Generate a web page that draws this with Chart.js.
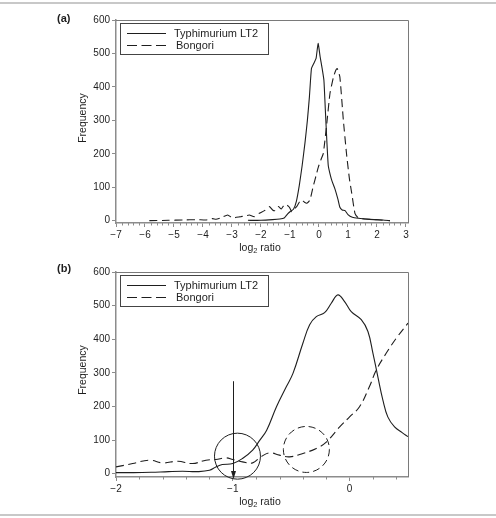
<!DOCTYPE html>
<html>
<head>
<meta charset="utf-8">
<script src="https://cdn.jsdelivr.net/npm/chart.js@4.4.0/dist/chart.umd.min.js"></script>
<style>
  body { margin: 0; background: #fff; width: 496px; height: 518px; position: relative; overflow: hidden; }
  .rule { position: absolute; left: 0; width: 496px; height: 2px; background: #c8c8c8; }
  .panel { position: absolute; left: 0; width: 496px; height: 258px; }
  canvas { display: block; }
</style>
</head>
<body>
<div class="rule" style="top:2px"></div>
<div class="rule" style="top:514px"></div>
<div class="panel" style="top:0"><canvas id="chartA" width="496" height="258"></canvas></div>
<div class="panel" style="top:258px"><canvas id="chartB" width="496" height="258"></canvas></div>
<script>
// series names
const seriesNames = ['Typhimurium LT2', 'Bongori'];

// panel (a): full range
const typhiAx = [-2.45, -2.0, -1.6, -1.35, -1.2, -1.08, -0.98, -0.88, -0.78, -0.68, -0.58, -0.48, -0.4, -0.33, -0.26, -0.18, -0.1, -0.03, 0.04, 0.1, 0.17, 0.22, 0.27, 0.32, 0.38, 0.45, 0.55, 0.65, 0.72, 0.8, 0.9, 1.0, 1.15, 1.35, 1.6, 1.9, 2.2, 2.45];
const typhiAy = [1, 1, 3, 5, 8, 20, 28, 34, 58, 105, 165, 235, 300, 370, 455, 470, 485, 530, 490, 460, 420, 330, 240, 165, 140, 118, 95, 65, 40, 32, 30, 18, 10, 7, 5, 3, 2, 0];
const bongAx = [-5.85, -5.2, -4.7, -4.2, -3.9, -3.67, -3.55, -3.4, -3.15, -2.98, -2.85, -2.69, -2.5, -2.4, -2.23, -2.06, -1.88, -1.71, -1.6, -1.52, -1.4, -1.3, -1.2, -1.11, -1.02, -0.94, -0.85, -0.77, -0.68, -0.6, -0.5, -0.42, -0.31, -0.2, -0.1, -0.02, 0.08, 0.15, 0.27, 0.38, 0.5, 0.58, 0.63, 0.72, 0.84, 0.95, 1.05, 1.13, 1.24, 1.36, 1.6, 1.8, 2.1, 2.45];
const bongAy = [0, 1, 2, 3, 2, 6, 4, 8, 17, 8, 10, 12, 15, 17, 12, 22, 30, 42, 32, 30, 42, 35, 47, 47, 40, 27, 35, 42, 55, 62, 55, 52, 62, 102, 135, 161, 185, 201, 291, 381, 430, 450, 455, 430, 301, 200, 125, 82, 22, 8, 5, 4, 2, 0];
const xTicksA = [-7, -6, -5, -4, -3, -2, -1, 0, 1, 2, 3];

// panel (b): zoomed range
const typhiBx = [-2.0, -1.85, -1.7, -1.55, -1.43, -1.3, -1.2, -1.145, -1.09, -1.0, -0.917, -0.83, -0.77, -0.71, -0.626, -0.541, -0.484, -0.4, -0.342, -0.285, -0.214, -0.157, -0.1, -0.043, 0.014, 0.1, 0.157, 0.2, 0.242, 0.285, 0.327, 0.385, 0.45, 0.5];
const typhiBy = [3, 3, 4, 6, 7, 6, 10, 20, 27, 30, 45, 70, 99, 129, 199, 259, 299, 388, 443, 467, 479, 507, 532, 512, 482, 458, 423, 358, 288, 219, 169, 139, 122, 110];
const bongBx = [-2.0, -1.857, -1.715, -1.6, -1.47, -1.345, -1.23, -1.145, -1.06, -1.0, -0.917, -0.83, -0.76, -0.684, -0.6, -0.513, -0.4, -0.285, -0.2, -0.085, 0, 0.085, 0.17, 0.228, 0.313, 0.4, 0.5];
const bongBy = [20, 30, 40, 32, 37, 30, 40, 42, 47, 42, 35, 32, 50, 62, 55, 50, 60, 75, 94, 139, 169, 199, 259, 308, 358, 403, 448];
const xTicksB = [-2, -1, 0];

// annotations in (b): circles [x, y, dashed], arrow [x, top]
const circleX = [-0.96, -0.37];
const circleY = [52, 72];
const circleDashed = [false, true];
const arrowAt = [-1, 275];

const yTicks = [0, 100, 200, 300, 400, 500, 600];
const minorStep = 0.2;

const FONT = '"Liberation Sans", Arial, Helvetica, sans-serif';
const INK = '#1e1e1e';
const AXIS = '#8c8c8c';
Chart.defaults.font.family = FONT;
Chart.defaults.color = INK;

function pts(xs, ys) { return xs.map((x, i) => ({ x: x, y: ys[i] })); }
function fmt(v) { return v < 0 ? '\u2212' + Math.abs(v) : String(v); }

const decor = {
  id: 'decor',
  afterDraw(chart, args, o) {
    const c = chart.ctx, a = chart.chartArea, xs = chart.scales.x, ys = chart.scales.y;
    c.save();
    // frame
    c.strokeStyle = '#7a7a7a'; c.lineWidth = 1;
    c.beginPath();
    c.moveTo(a.left, a.top + 0.5); c.lineTo(a.right + 0.5, a.top + 0.5); c.lineTo(a.right + 0.5, a.bottom);
    c.stroke();
    // minor x ticks
    c.strokeStyle = AXIS; c.lineWidth = 1;
    for (let v = xs.min; v <= xs.max + 1e-9; v += minorStep) {
      const r = Math.round(v * 10) / 10;
      if (Math.abs(r - Math.round(r)) < 1e-6) continue;
      const px = Math.round(xs.getPixelForValue(r)) + 0.5;
      c.beginPath(); c.moveTo(px, a.bottom); c.lineTo(px, a.bottom + 2.5); c.stroke();
    }
    // panel label
    c.fillStyle = INK; c.font = 'bold 11px ' + FONT;
    c.textAlign = 'left'; c.textBaseline = 'middle';
    c.fillText(o.label, 57, o.labelY);
    // y title
    c.font = '10.5px ' + FONT; c.textAlign = 'center';
    c.save(); c.translate(83, o.yTitleY); c.rotate(-Math.PI / 2); c.fillText('Frequency', 0, 0); c.restore();
    // x title with subscript
    c.font = '10.5px ' + FONT;
    const w1 = c.measureText('log').width;
    c.font = '7.5px ' + FONT; const w2 = c.measureText('2').width;
    c.font = '10.5px ' + FONT; const w3 = c.measureText(' ratio').width;
    let x0 = 260 - (w1 + w2 + w3) / 2;
    c.textAlign = 'left';
    c.fillText('log', x0, o.xTitleY);
    c.font = '7.5px ' + FONT; c.fillText('2', x0 + w1, o.xTitleY + 3);
    c.font = '10.5px ' + FONT; c.fillText(' ratio', x0 + w1 + w2, o.xTitleY);
    // legend
    const lx = a.left + 4, ly = a.top + 3;
    c.strokeStyle = '#444'; c.lineWidth = 1;
    c.strokeRect(lx + 0.5, ly + 0.5, 148, 31);
    c.font = '11px ' + FONT; c.textBaseline = 'middle';
    chart.data.datasets.forEach((d, i) => {
      const yy = ly + 10 + i * 12;
      c.strokeStyle = INK; c.lineWidth = 1; c.setLineDash(d.borderDash ? [10, 4.5] : []);
      c.beginPath(); c.moveTo(lx + 7, yy + 0.5); c.lineTo(lx + 46, yy + 0.5); c.stroke();
      c.setLineDash([]);
      c.fillText(d.label, lx + 54 + i * 2, yy + 1);
    });
    // annotations
    if (o.annotate) {
      c.strokeStyle = INK; c.lineWidth = 1;
      circleX.forEach((cx, i) => {
        c.setLineDash(circleDashed[i] ? [7, 4] : []);
        c.beginPath();
        c.arc(xs.getPixelForValue(cx), ys.getPixelForValue(circleY[i]), 23, 0, Math.PI * 2);
        c.stroke();
      });
      c.setLineDash([]);
      const ax = Math.round(xs.getPixelForValue(arrowAt[0])) + 0.5;
      const tip = a.bottom + 2;
      c.beginPath(); c.moveTo(ax, ys.getPixelForValue(arrowAt[1])); c.lineTo(ax, tip - 6); c.stroke();
      c.fillStyle = INK;
      c.beginPath(); c.moveTo(ax, tip); c.lineTo(ax - 2.5, tip - 8); c.lineTo(ax + 2.5, tip - 8); c.closePath(); c.fill();
    }
    c.restore();
  }
};

function makePanel(id, set, xMin, xMax, xTicks, yMin, pad, xH, tension, deco) {
  return new Chart(document.getElementById(id), {
    type: 'line',
    data: {
      datasets: [
        { label: seriesNames[0], data: set[0], borderColor: INK, borderWidth: 1.1, pointRadius: 0, tension: tension, fill: false },
        { label: seriesNames[1], data: set[1], borderColor: INK, borderWidth: 1.1, borderDash: [8, 4.5], pointRadius: 0, tension: tension, fill: false }
      ]
    },
    options: {
      responsive: false,
      animation: false,
      layout: { padding: { top: pad, right: 88, left: 0, bottom: 0 } },
      plugins: { legend: { display: false }, tooltip: { enabled: false }, decor: deco },
      scales: {
        x: {
          type: 'linear', min: xMin, max: xMax,
          afterBuildTicks: s => { s.ticks = xTicks.map(v => ({ value: v })); },
          afterFit: s => { s.height = xH; },
          ticks: { font: { size: 10 }, color: INK, padding: 2, maxRotation: 0, autoSkip: false, callback: v => fmt(v) },
          grid: { drawOnChartArea: false, tickLength: 4, tickColor: AXIS, color: AXIS },
          border: { color: AXIS, width: 1.5 }
        },
        y: {
          min: yMin, max: 600,
          afterBuildTicks: s => { s.ticks = yTicks.map(v => ({ value: v })); },
          afterFit: s => { s.width = 116; },
          ticks: { font: { size: 10 }, color: INK, padding: 2, callback: v => String(v) },
          grid: { drawOnChartArea: false, tickLength: 4, tickColor: AXIS, color: AXIS },
          border: { color: AXIS, width: 1.5 }
        }
      }
    },
    plugins: [decor]
  });
}

makePanel('chartA', [pts(typhiAx, typhiAy), pts(bongAx, bongAy)], -7, 3.07, xTicksA, -7, 20, 35, 0.15,
  { label: '(a)', labelY: 19, yTitleY: 118, xTitleY: 248, annotate: false });
makePanel('chartB', [pts(typhiBx, typhiBy), pts(bongBx, bongBy)], -2, 0.5, xTicksB, -10, 14, 39, 0.4,
  { label: '(b)', labelY: 11, yTitleY: 112, xTitleY: 244, annotate: true });
</script>
</body>
</html>
